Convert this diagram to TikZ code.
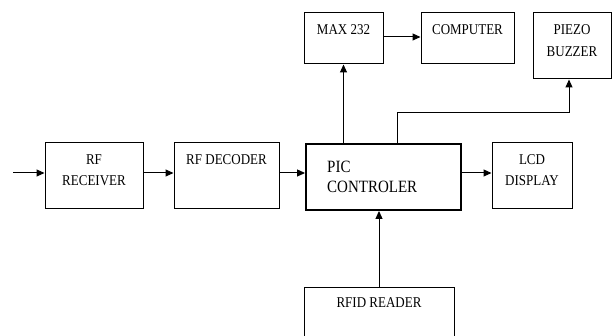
\documentclass[tikz,border=0pt]{standalone}
\usepackage{fontspec}
\setmainfont{Liberation Serif}
\usetikzlibrary{arrows.meta}
\newcommand{\tall}[1]{\scalebox{1}[1.15]{#1}}
\begin{document}
\begin{tikzpicture}[x=1pt,y=-1pt,
  box/.style={draw, line width=1pt, inner sep=0pt},
  lbl/.style={inner sep=0pt, font=\fontsize{13}{15}\selectfont},
  conn/.style={line width=1pt, -{Triangle[length=8pt,width=7pt]}}]
\useasboundingbox (0,0) rectangle (612,336);
% boxes
\node[box, minimum width=98pt, minimum height=66pt] (rfr) at (94,176) {};
\node[box, minimum width=105pt, minimum height=66pt] (rfd) at (226.5,176) {};
\node[box, line width=1.9pt, minimum width=155pt, minimum height=66pt] (pic) at (383.5,177) {};
\node[box, minimum width=80pt, minimum height=66pt] (lcd) at (532,176) {};
\node[box, minimum width=79pt, minimum height=51pt] (max) at (343.5,38.5) {};
\node[box, minimum width=93pt, minimum height=51pt] (comp) at (467.5,38.5) {};
\node[box, minimum width=78pt, minimum height=66pt] (piezo) at (572,46) {};
\node[box, minimum width=150pt, minimum height=60pt] (rfid) at (379,317) {};
% labels
\node[lbl] (t1) at (94,160) {\tall{RF}};
\node[lbl] (t2) at (94,181) {\tall{RECEIVER}};
\node[lbl] (t3) at (226.5,160) {\tall{RF DECODER}};
\node[lbl, anchor=west, font=\fontsize{15}{17}\selectfont] (t4) at (327,167) {\tall{PIC}};
\node[lbl, anchor=west, font=\fontsize{15}{17}\selectfont] (t5) at (327,187) {\tall{CONTROLER}};
\node[lbl] (t6) at (532,160) {\tall{LCD}};
\node[lbl] (t7) at (532,181) {\tall{DISPLAY}};
\node[lbl] (t8) at (343.5,30) {\tall{MAX 232}};
\node[lbl] (t9) at (467.5,30) {\tall{COMPUTER}};
\node[lbl] (t10) at (572,30) {\tall{PIEZO}};
\node[lbl] (t11) at (572,52) {\tall{BUZZER}};
\node[lbl] (t12) at (379,303) {\tall{RFID READER}};
% connectors
\coordinate (in) at (13,173);
\coordinate (bend1) at (397,113);
\coordinate (bend2) at (569,113);
\draw[conn] (in) -- (rfr.west |- in);
\draw[conn] (rfr.east |- in) -- (rfd.west |- in);
\draw[conn] (rfd.east |- in) -- (pic.west |- in);
\draw[conn] (pic.east |- in) -- (lcd.west |- in);
\draw[conn] (max.east |- 0,37) -- (comp.west |- 0,37);
\draw[conn] (max.south |- pic.north) -- (max.south);
\draw[conn] (bend1 |- pic.north) -- (bend1) -- (bend2) -- (bend2 |- piezo.south);
\draw[conn] (rfid.north) -- (rfid.north |- pic.south);
\end{tikzpicture}
\end{document}
